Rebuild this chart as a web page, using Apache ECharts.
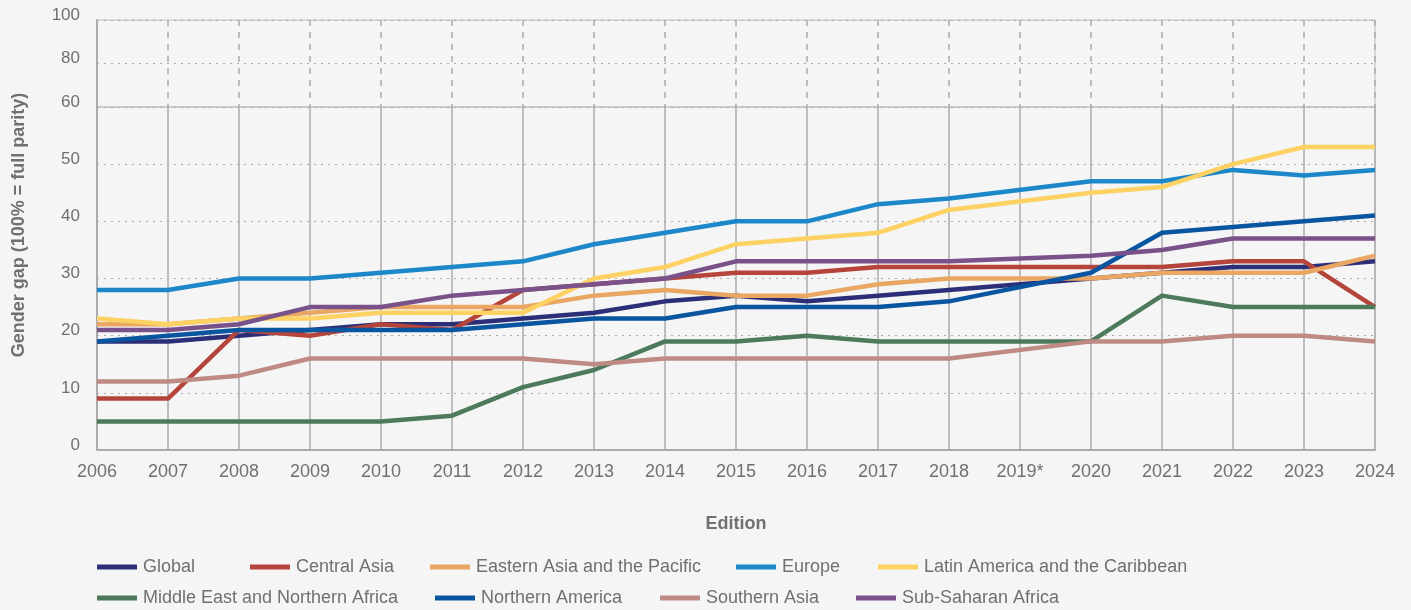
<!DOCTYPE html>
<html>
<head>
<meta charset="utf-8">
<script src="https://cdn.jsdelivr.net/npm/echarts@6/dist/echarts.min.js"></script>
<style>
  html, body { margin: 0; padding: 0; background: #f5f5f5; }
  #chart { width: 1411px; height: 610px; }
</style>
</head>
<body>
<div id="chart"></div>
<script>
// editions (2019 marked with *)
const editions = ['2006', '2007', '2008', '2009', '2010', '2011', '2012', '2013', '2014', '2015',
  '2016', '2017', '2018', '2019*', '2020', '2021', '2022', '2023', '2024']

// 2019 edition has no published value, line is joined across it
const globalGap = [19, 19, 20, 21, 22, 22, 23, 24, 26, 27, 26, 27, 28, null, 30, 31, 32, 32, 33]
const centralAsia = [9, 9, 21, 20, 22, 21, 28, 29, 30, 31, 31, 32, 32, null, 32, 32, 33, 33, 25]
const eastAsiaPacific = [22, 22, 23, 24, 25, 25, 25, 27, 28, 27, 27, 29, 30, null, 30, 31, 31, 31, 34]
const europe = [28, 28, 30, 30, 31, 32, 33, 36, 38, 40, 40, 43, 44, null, 47, 47, 49, 48, 49]
const latinAmerica = [23, 22, 23, 23, 24, 24, 24, 30, 32, 36, 37, 38, 42, null, 45, 46, 50, 53, 53]
const middleEast = [5, 5, 5, 5, 5, 6, 11, 14, 19, 19, 20, 19, 19, null, 19, 27, 25, 25, 25]
const northAmerica = [19, 20, 21, 21, 21, 21, 22, 23, 23, 25, 25, 25, 26, null, 31, 38, 39, 40, 41]
const southAsia = [12, 12, 13, 16, 16, 16, 16, 15, 16, 16, 16, 16, 16, null, 19, 19, 20, 20, 19]
const subSaharan = [21, 21, 22, 25, 25, 27, 28, 29, 30, 33, 33, 33, 33, null, 34, 35, 37, 37, 37]

const seriesNames = ['Global', 'Central Asia', 'Eastern Asia and the Pacific', 'Europe',
  'Latin America and the Caribbean', 'Middle East and Northern Africa', 'Northern America',
  'Southern Asia', 'Sub-Saharan Africa']
const seriesData = [globalGap, centralAsia, eastAsiaPacific, europe, latinAmerica,
  middleEast, northAmerica, southAsia, subSaharan]
const colorList = ['#2c2f78', '#b5443a', '#e9a763', '#1c87c9', '#fdd162',
  '#4d7a5b', '#0a55a0', '#bf8a84', '#7a528a']

// lower part 0-60, upper (compressed) part 60-100
const lowTicks = [0, 10, 20, 30, 40, 50, 60]
const highTicks = [60, 80, 100]

// legend item placement (left edge, vertical centre)
const legendLeft = [97, 250, 430, 736, 878, 97, 435, 660, 856]
const legendMid = [567, 567, 567, 567, 567, 598, 598, 598, 598]

const textColor = '#707070'
const gridColor = '#ababab'
const fontFamily = '"Liberation Sans", Arial, sans-serif'

const series = seriesNames.map((name, index) => ({
  name: name,
  type: 'line',
  data: seriesData[index],
  xAxisIndex: 0,
  yAxisIndex: 0,
  connectNulls: true,
  symbol: 'none',
  color: colorList[index],
  lineStyle: { color: colorList[index], width: 4.5 },
  z: 3
}))

const yLabel = {
  color: textColor,
  fontSize: 17,
  margin: 17,
  verticalAlign: 'bottom',
  lineHeight: 10
}

const option = {
  backgroundColor: '#f5f5f5',
  animation: false,
  textStyle: { fontFamily: fontFamily },
  grid: [
    { left: 97, right: 36, top: 107, bottom: 160, show: true, borderColor: '#bdbdbd', borderWidth: 1 },
    { left: 97, right: 36, top: 20, height: 87, show: true, borderColor: '#bdbdbd', borderWidth: 1 }
  ],
  legend: seriesNames.map((name, index) => ({
    data: [name],
    left: legendLeft[index],
    top: legendMid[index] - 9,
    padding: 0,
    itemWidth: 40,
    itemHeight: 5,
    itemGap: 0,
    icon: 'rect',
    selectedMode: false,
    textStyle: { color: textColor, fontSize: 18, fontFamily: fontFamily, padding: [0, 0, 0, 1] }
  })),
  graphic: [
    {
      type: 'text',
      x: 19,
      y: 225,
      rotation: Math.PI / 2,
      style: {
        text: 'Gender gap (100% = full parity)',
        fill: textColor,
        align: 'center',
        verticalAlign: 'middle',
        font: 'bold 18px "Liberation Sans", Arial, sans-serif'
      }
    }
  ],
  xAxis: [
    {
      type: 'category',
      gridIndex: 0,
      data: editions,
      boundaryGap: false,
      name: 'Edition',
      nameLocation: 'middle',
      nameGap: 65,
      nameTextStyle: { color: textColor, fontSize: 18, fontWeight: 'bold' },
      axisLine: { show: true, lineStyle: { color: gridColor, width: 2 } },
      axisTick: { show: false },
      axisLabel: { color: textColor, fontSize: 18, margin: 13 },
      splitLine: { show: true, lineStyle: { color: gridColor, width: 1.5 } }
    },
    {
      type: 'category',
      gridIndex: 1,
      data: editions,
      boundaryGap: false,
      axisLine: { show: false },
      axisTick: { show: false },
      axisLabel: { show: false },
      splitLine: { show: true, lineStyle: { color: gridColor, width: 1.5, type: [6, 6] } }
    }
  ],
  yAxis: [
    {
      type: 'value',
      gridIndex: 0,
      min: lowTicks[0],
      max: lowTicks[lowTicks.length - 1],
      interval: 10,
      axisLine: { show: true, lineStyle: { color: gridColor, width: 2 } },
      axisTick: { show: false },
      axisLabel: yLabel,
      splitLine: { show: true, lineStyle: { color: gridColor, width: 1, type: [2, 5] } }
    },
    {
      type: 'value',
      gridIndex: 1,
      min: highTicks[0],
      max: highTicks[highTicks.length - 1],
      interval: 20,
      axisLine: { show: true, lineStyle: { color: gridColor, width: 2 } },
      axisTick: { show: false },
      axisLabel: Object.assign({}, yLabel, {
        formatter: (value) => (value === highTicks[0] ? '' : String(value))
      }),
      splitLine: { show: true, lineStyle: { color: gridColor, width: 1, type: [2, 5] } }
    }
  ],
  series: series
}

let myChart = echarts.init(document.getElementById('chart'))
myChart.setOption(option)
</script>
</body>
</html>
